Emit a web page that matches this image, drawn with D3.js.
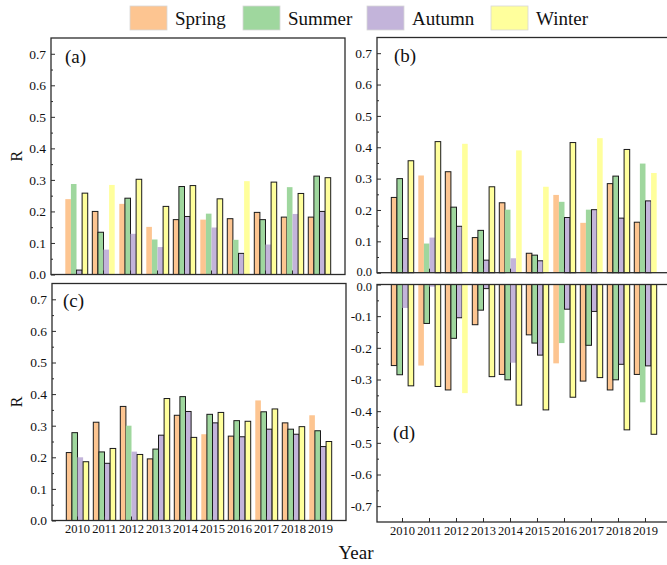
<!DOCTYPE html>
<html>
<head>
<meta charset="utf-8">
<script src="https://cdn.jsdelivr.net/npm/d3@7"></script>
<style>
  html, body { margin: 0; padding: 0; background: #fff; }
  svg { display: block; font-family: "Liberation Serif", "Times New Roman", serif; }
</style>
</head>
<body>
<svg id="chart" width="667" height="565"></svg>
<script>
// Years and seasons
const years = [2010, 2011, 2012, 2013, 2014, 2015, 2016, 2017, 2018, 2019];
const seasons = ["Spring", "Summer", "Autumn", "Winter"];
const seasonColors = ["#fdc591", "#9fd79e", "#c3b4da", "#ffff9c"];

// Panel (a)
const aSpring = [0.239, 0.200, 0.224, 0.151, 0.174, 0.174, 0.177, 0.197, 0.182, 0.182];
const aSummer = [0.287, 0.134, 0.242, 0.111, 0.279, 0.193, 0.110, 0.174, 0.277, 0.312];
const aAutumn = [0.014, 0.079, 0.129, 0.087, 0.184, 0.149, 0.067, 0.095, 0.192, 0.200];
const aWinter = [0.258, 0.284, 0.302, 0.216, 0.282, 0.240, 0.296, 0.293, 0.257, 0.307];
const aOutline = ["0011", "1100", "0101", "0001", "1111", "0001", "1010", "1101", "1001", "1111"];

// Panel (b)
const bSpring = [0.240, 0.310, 0.322, 0.112, 0.223, 0.062, 0.248, 0.159, 0.284, 0.161];
const bSummer = [0.300, 0.093, 0.209, 0.135, 0.201, 0.056, 0.226, 0.201, 0.308, 0.348];
const bAutumn = [0.109, 0.112, 0.148, 0.040, 0.046, 0.038, 0.176, 0.201, 0.174, 0.229];
const bWinter = [0.357, 0.418, 0.411, 0.274, 0.390, 0.274, 0.415, 0.429, 0.393, 0.318];
const bOutline = ["1111", "0001", "1110", "1111", "1000", "1110", "0011", "0010", "1111", "1010"];

// Panel (c)
const cSpring = [0.215, 0.311, 0.361, 0.195, 0.333, 0.273, 0.267, 0.380, 0.309, 0.333];
const cSummer = [0.278, 0.217, 0.300, 0.226, 0.392, 0.336, 0.316, 0.344, 0.289, 0.284];
const cAutumn = [0.200, 0.181, 0.218, 0.270, 0.345, 0.309, 0.265, 0.289, 0.273, 0.234];
const cWinter = [0.186, 0.228, 0.209, 0.386, 0.263, 0.342, 0.314, 0.353, 0.297, 0.250];
const cOutline = ["1101", "1111", "1001", "1111", "1111", "0111", "1111", "0111", "1111", "0111"];

// Panel (d)
const dSpring = [-0.256, -0.256, -0.333, -0.127, -0.284, -0.159, -0.249, -0.305, -0.333, -0.284];
const dSummer = [-0.285, -0.123, -0.170, -0.081, -0.301, -0.185, -0.185, -0.192, -0.301, -0.372];
const dAutumn = [-0.074, -0.007, -0.105, -0.013, -0.247, -0.223, -0.078, -0.085, -0.252, -0.257];
const dWinter = [-0.320, -0.322, -0.343, -0.291, -0.381, -0.396, -0.356, -0.294, -0.459, -0.473];
const dOutline = ["1101", "0101", "1110", "1111", "1101", "1111", "0011", "1111", "1111", "1011"];

const yTicksPos = [0, 0.1, 0.2, 0.3, 0.4, 0.5, 0.6, 0.7];
const yMinorPos = [0.05, 0.15, 0.25, 0.35, 0.45, 0.55, 0.65];
const yTicksNeg = [0, -0.1, -0.2, -0.3, -0.4, -0.5, -0.6, -0.7];
const yMinorNeg = [-0.05, -0.15, -0.25, -0.35, -0.45, -0.55, -0.65];

const svg = d3.select("#chart");
const frameColor = "#2b2b2b";
const fmt = v => d3.format(".1f")(v).replace("\u2212", "-");

const panels = [
  { tag: "(a)", x0: 51, x1: 345, y0: 38, y1: 274.5, domain: [0, 0.75],
    series: [aSpring, aSummer, aAutumn, aWinter], outline: aOutline,
    ticks: yTicksPos, minor: yMinorPos, tagX: 65, tagY: 63, xLabels: false, rLabel: true, zeroShift: 0 },
  { tag: "(b)", x0: 377, x1: 671, y0: 37.5, y1: 272.7, domain: [0, 0.75],
    series: [bSpring, bSummer, bAutumn, bWinter], outline: bOutline,
    ticks: yTicksPos, minor: yMinorPos, tagX: 394, tagY: 62, xLabels: false, rLabel: false, zeroShift: -1.5 },
  { tag: "(c)", x0: 52, x1: 346, y0: 283.5, y1: 520.5, domain: [0, 0.75],
    series: [cSpring, cSummer, cAutumn, cWinter], outline: cOutline,
    ticks: yTicksPos, minor: yMinorPos, tagX: 63, tagY: 307, xLabels: true, rLabel: true, zeroShift: 0 },
  { tag: "(d)", x0: 377, x1: 671, y0: 284.5, y1: 522, domain: [-0.75, 0],
    series: [dSpring, dSummer, dAutumn, dWinter], outline: dOutline,
    ticks: yTicksNeg, minor: yMinorNeg, tagX: 393, tagY: 439, xLabels: true, rLabel: false, zeroShift: 1.5 }
];

panels.forEach(p => {
  const g = svg.append("g");
  const x = d3.scaleBand().domain(years).range([p.x0, p.x1])
    .paddingInner(0.17).paddingOuter(0.53);
  const xs = d3.scaleBand().domain(seasons).range([0, x.bandwidth()]);
  const y = d3.scaleLinear().domain(p.domain).range([p.y1, p.y0]);

  // bars
  p.series.forEach((vals, si) => {
    g.append("g").selectAll("rect")
      .data(vals.map((v, i) => ({ v, i })))
      .join("rect")
      .attr("x", d => x(years[d.i]) + xs(seasons[si]))
      .attr("width", xs.bandwidth())
      .attr("y", d => y(Math.max(0, d.v)))
      .attr("height", d => Math.abs(y(d.v) - y(0)))
      .attr("fill", seasonColors[si])
      .attr("stroke", d => p.outline[d.i][si] === "1" ? "#1a1a1a" : "none")
      .attr("stroke-width", 1);
  });

  // y axis (ticks pointing inward)
  const yAxis = d3.axisLeft(y).tickValues(p.ticks).tickFormat(fmt)
    .tickSizeInner(-4).tickSizeOuter(0).tickPadding(5);
  const ya = g.append("g").attr("transform", `translate(${p.x0},0)`).call(yAxis);
  ya.select(".domain").remove();
  ya.selectAll("line").attr("stroke", frameColor);
  ya.selectAll("text").attr("font-size", 13.5).attr("fill", "#111")
    .attr("font-family", "Liberation Serif");
  // the two stacked zero labels on the right column sit close together
  if (p.zeroShift) {
    ya.selectAll(".tick").filter(d => d === 0).select("text")
      .attr("font-size", 12.5).attr("y", p.zeroShift);
  }

  const yMinor = d3.axisLeft(y).tickValues(p.minor).tickFormat("")
    .tickSizeInner(-2).tickSizeOuter(0);
  const ym = g.append("g").attr("transform", `translate(${p.x0},0)`).call(yMinor);
  ym.select(".domain").remove();
  ym.selectAll("line").attr("stroke", frameColor);

  // x axis on the bottom edge, ticks pointing up
  const xAxis = d3.axisBottom(x).tickSizeInner(-4).tickSizeOuter(0).tickPadding(4)
    .tickFormat(p.xLabels ? d3.format("d") : "");
  const xa = g.append("g").attr("transform", `translate(0,${p.y1})`).call(xAxis);
  xa.select(".domain").remove();
  xa.selectAll("line").attr("stroke", frameColor);
  xa.selectAll("text").attr("font-size", 12.5).attr("fill", "#111")
    .attr("font-family", "Liberation Serif");

  // frame
  g.append("rect")
    .attr("x", p.x0).attr("y", p.y0)
    .attr("width", p.x1 - p.x0).attr("height", p.y1 - p.y0)
    .attr("fill", "none").attr("stroke", frameColor).attr("stroke-width", 1.3);

  // panel tag
  g.append("text").attr("x", p.tagX).attr("y", p.tagY)
    .attr("font-size", 19).attr("fill", "#111").text(p.tag);

  // y axis title
  if (p.rLabel) {
    const cy = (p.y0 + p.y1) / 2;
    g.append("text")
      .attr("transform", `translate(22,${cy}) rotate(-90)`)
      .attr("text-anchor", "middle")
      .attr("font-size", 16).attr("fill", "#111").text("R");
  }
});

// x axis title
svg.append("text").attr("x", 356).attr("y", 559)
  .attr("text-anchor", "middle").attr("font-size", 19).attr("fill", "#111").text("Year");

// legend
const legendX = [130, 243, 367, 491];
const legend = svg.append("g");
seasons.forEach((s, i) => {
  legend.append("rect").attr("x", legendX[i]).attr("y", 6)
    .attr("width", 37).attr("height", 24)
    .attr("fill", seasonColors[i]).attr("stroke", "#d8d8d8").attr("stroke-width", 0.8);
  legend.append("text").attr("x", legendX[i] + 45).attr("y", 25)
    .attr("font-size", 19).attr("fill", "#111").text(s);
});
</script>
</body>
</html>
